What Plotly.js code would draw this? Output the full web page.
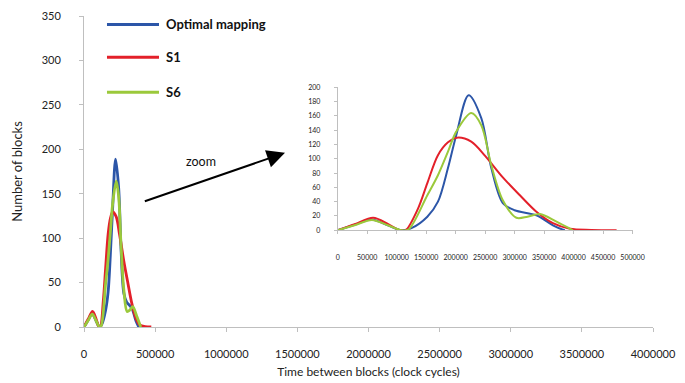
<!DOCTYPE html>
<html>
<head>
<meta charset="utf-8">
<script src="https://cdn.plot.ly/plotly-3.0.1.min.js"></script>
<style>html,body{margin:0;padding:0;background:#fff}#chart{width:685px;height:383px}</style>
</head>
<body>
<div id="chart"></div>
<script>
// Series names and colours
const seriesNames = ["Optimal mapping", "S1", "S6"];
const seriesColors = ["#2c56a8", "#e3202a", "#9bc93b"];

// Optimal mapping (clock cycles, number of blocks)
const optX = [0, 30000, 57000, 85000, 108000, 125000, 152000, 170000, 187000, 201000, 222000, 243500, 260500, 280000, 300000, 337000, 365000, 385000];
const optY = [0, 8, 15, 7, 0, 3, 19, 40, 87, 133, 189, 157, 87, 38, 28, 21, 7, 0];

// S1
const s1X = [0, 30000, 60000, 85000, 105000, 115000, 136000, 152000, 170000, 187000, 202000, 226500, 250000, 280000, 309000, 337000, 365000, 394000, 430000, 473000];
const s1Y = [0, 9, 17.5, 9, 0, 0, 30, 66, 105, 123, 129.5, 124, 104, 74, 49, 26, 10, 2, 0.5, 0];

// S6
const s6X = [0, 30000, 58000, 85000, 108000, 120000, 152000, 170000, 187000, 201000, 226500, 243500, 260500, 280000, 303000, 322000, 343000, 371000, 399000];
const s6Y = [0, 7.5, 14.5, 7, 0, 1, 49, 77, 110, 138, 164, 147, 91, 42, 17.5, 19, 22.8, 12, 0];

// Axis ticks
const mainXTicks = [0, 500000, 1000000, 1500000, 2000000, 2500000, 3000000, 3500000, 4000000];
const mainYTicks = [0, 50, 100, 150, 200, 250, 300, 350];
const zoomXTicks = [0, 50000, 100000, 150000, 200000, 250000, 300000, 350000, 400000, 450000, 500000];
const zoomYTicks = [0, 20, 40, 60, 80, 100, 120, 140, 160, 180, 200];

const xs = [optX, s1X, s6X];
const ys = [optY, s1Y, s6Y];

const FONT = "Lato, 'Open Sans', sans-serif";
const traces = [];
for (let i = 0; i < 3; i++) {
  traces.push({
    x: xs[i], y: ys[i], type: "scatter", mode: "lines",
    line: {color: seriesColors[i], width: 2.8, shape: "spline", smoothing: 0.9},
    name: seriesNames[i], showlegend: false, xaxis: "x", yaxis: "y", hoverinfo: "skip"
  });
}
for (let i = 0; i < 3; i++) {
  traces.push({
    x: xs[i], y: ys[i], type: "scatter", mode: "lines",
    line: {color: seriesColors[i], width: 2, shape: "spline", smoothing: 0.9},
    name: seriesNames[i], showlegend: false, xaxis: "x2", yaxis: "y2", hoverinfo: "skip"
  });
}

// Manual legend (long line samples as in the reference)
const legY = [0.973, 0.867, 0.7547];
const shapes = [];
const annotations = [];
for (let i = 0; i < 3; i++) {
  shapes.push({type: "line", xref: "paper", yref: "paper", x0: 0.0404, x1: 0.1318, y0: legY[i], y1: legY[i],
    line: {color: seriesColors[i], width: 3}});
  annotations.push({xref: "paper", yref: "paper", x: 0.1406, y: legY[i], xanchor: "left", yanchor: "middle",
    text: "<b>" + seriesNames[i] + "</b>", showarrow: false, font: {family: FONT, size: 13, color: "#111"}});
}
// zoom arrow and label
annotations.push({xref: "x", yref: "y", x: 1413000, y: 196, axref: "x", ayref: "y", ax: 417000, ay: 141,
  showarrow: true, arrowhead: 2, arrowsize: 1.8, arrowwidth: 2, arrowcolor: "#000", text: ""});
annotations.push({xref: "x", yref: "y", x: 822500, y: 185.7, text: "zoom", showarrow: false,
  font: {family: FONT, size: 12.5, color: "#111"}});

const axisLine = "#bfbfbf";
const layout = {
  width: 685, height: 383,
  margin: {l: 84, r: 32, t: 16, b: 56},
  paper_bgcolor: "#fff", plot_bgcolor: "#fff",
  showlegend: false,
  font: {family: FONT, color: "#222"},
  xaxis: {
    range: [0, 4000000], tickvals: mainXTicks, ticktext: mainXTicks.map(String),
    showgrid: false, zeroline: false, showline: true, linecolor: axisLine, linewidth: 1,
    ticks: "outside", ticklen: 4, tickcolor: axisLine, ticklabelstandoff: 13,
    tickfont: {family: FONT, size: 11, color: "#222"},
    title: {text: "Time between blocks (clock cycles)", font: {family: FONT, size: 12, color: "#222"}, standoff: 8},
    domain: [0, 1], anchor: "y"
  },
  yaxis: {
    range: [0, 350], tickvals: mainYTicks, ticktext: mainYTicks.map(String),
    showgrid: false, zeroline: false, showline: true, linecolor: axisLine, linewidth: 1,
    ticks: "outside", ticklen: 4, tickcolor: axisLine, ticklabelstandoff: 16,
    tickfont: {family: FONT, size: 11, color: "#222"},
    title: {text: "Number of blocks", font: {family: FONT, size: 13, color: "#222"}, standoff: 16},
    domain: [0, 1], anchor: "x"
  },
  xaxis2: {
    range: [0, 500000], tickvals: zoomXTicks, ticktext: zoomXTicks.map(String),
    showgrid: false, zeroline: false, showline: true, linecolor: axisLine, linewidth: 1,
    ticks: "outside", ticklen: 3, tickcolor: axisLine, ticklabelstandoff: 17,
    tickfont: {family: FONT, size: 7, color: "#222"},
    domain: [0.4459, 0.964], anchor: "y2"
  },
  yaxis2: {
    range: [0, 200], tickvals: zoomYTicks, ticktext: zoomYTicks.map(String),
    showgrid: false, zeroline: false, showline: true, linecolor: axisLine, linewidth: 1,
    ticks: "outside", ticklen: 3, tickcolor: axisLine, ticklabelstandoff: 12,
    tickfont: {family: FONT, size: 7, color: "#222"},
    domain: [0.311, 0.7707], anchor: "x2"
  },
  shapes: shapes,
  annotations: annotations
};

Plotly.newPlot("chart", traces, layout, {displayModeBar: false, staticPlot: true});
</script>
</body>
</html>
